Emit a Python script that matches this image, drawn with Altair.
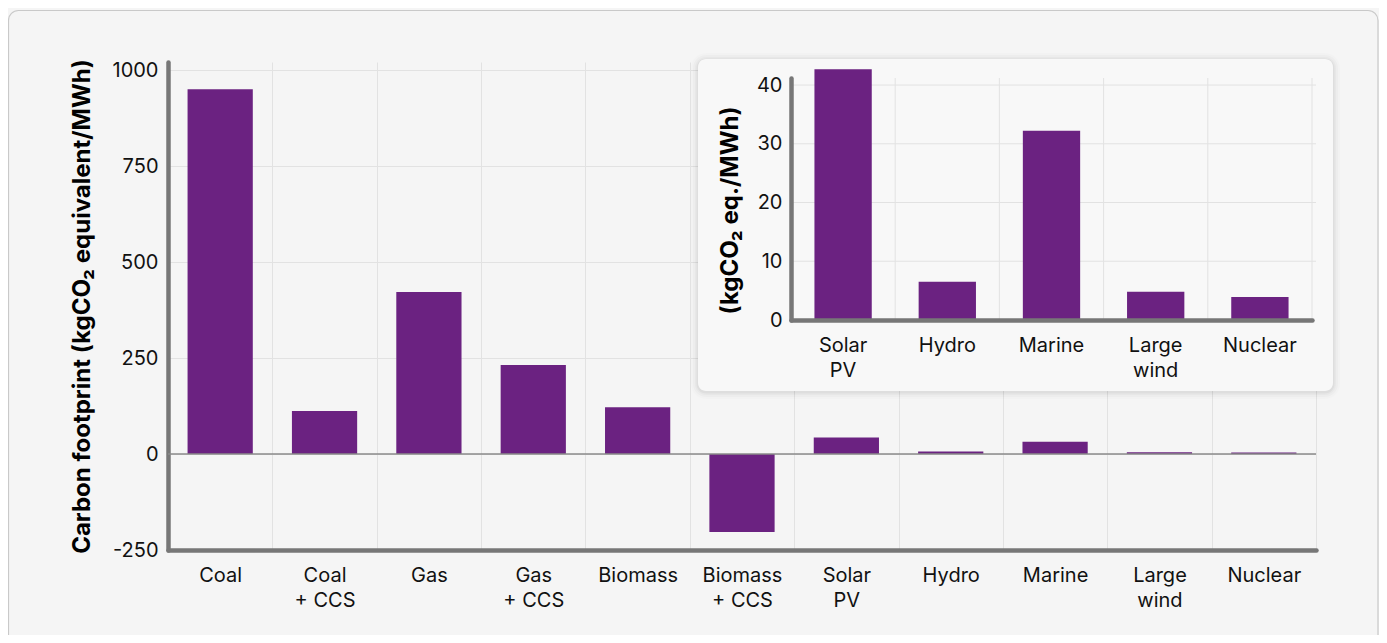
import altair as alt
import pandas as pd

# ---------------- data ----------------
main_cats = ["Coal", "Coal\n+ CCS", "Gas", "Gas\n+ CCS", "Biomass", "Biomass\n+ CCS",
             "Solar\nPV", "Hydro", "Marine", "Large\nwind", "Nuclear"]
main_vals = [950, 112, 422, 232, 122, -203, 43, 6.5, 32, 4.8, 4]
main_ticks = [-250, 0, 250, 500, 750, 1000]

inset_cats = ["Solar\nPV", "Hydro", "Marine", "Large\nwind", "Nuclear"]
inset_vals = [42.7, 6.5, 32.2, 4.8, 3.9]
inset_ticks = [0, 10, 20, 30, 40]
inset_grid = [10, 20, 30, 40]

# ---------------- layout constants ----------------
W, H = 1148, 488
MAIN_DOMAIN = [-250, 1021]
IX0, IX1 = 623, 1144          # inset x range (px, relative to plot)
IY0, IY1 = 258, 16            # inset y range (bottom, top)
INSET_DOMAIN = [0, 41.2]
CARD = dict(x=530, x2=1165, y=-3, y2=329)

PURPLE = "#6b2281"
AXIS_C = "#777777"
GRID_C = "#e2e2e2"
FONT = "Inter"
LBL = 20
TTL = 24

main_df = pd.DataFrame({"cat": main_cats, "value": main_vals})
inset_df = pd.DataFrame({"cat": inset_cats, "value": inset_vals})
grid_df = pd.DataFrame({"t": inset_grid})
one = pd.DataFrame({"k": [0]})

label_split = "split(datum.label, '\\n')"

# ---------------- main chart ----------------
main_x = alt.X("cat:N", sort=main_cats, title=None,
               scale=alt.Scale(paddingInner=0, paddingOuter=0),
               axis=alt.Axis(labelExpr=label_split, labelAngle=0, labelPadding=15,
                             labelLineHeight=25, labelBaseline="top",
                             grid=True, tickBand="extent", gridColor=GRID_C,
                             ticks=False, domainColor=AXIS_C, domainWidth=4.5,
                             domainCap="round", labelFont=FONT, labelFontSize=LBL,
                             labelColor="#111111"))
main_y = alt.Y("value:Q", title="Carbon footprint (kgCO\u2082 equivalent/MWh)",
               scale=alt.Scale(domain=MAIN_DOMAIN, nice=False, zero=False),
               axis=alt.Axis(values=main_ticks, labelExpr="'' + datum.value",
                             grid=True, gridColor=GRID_C, ticks=False,
                             domainColor=AXIS_C, domainWidth=4.5, domainCap="round",
                             labelPadding=10, labelFont=FONT, labelFontSize=LBL,
                             labelColor="#111111", titleFont=FONT, titleFontSize=TTL,
                             titleFontWeight="bold", titleColor="#000000",
                             titleX=-86, titleBaseline="middle"))

main_bars = alt.Chart(main_df).mark_bar(color=PURPLE, width=alt.RelativeBandSize(0.625)).encode(
    x=main_x, y=main_y)
zero_rule = alt.Chart(one).mark_rule(color="#8a8a8a", strokeWidth=1.5).encode(y=alt.datum(0))
card_border = alt.Chart(one).mark_rect(fillOpacity=0, stroke="#c9c9c9", strokeWidth=1.2,
                                       cornerRadius=10).encode(
    x=alt.value(-159.5), x2=alt.value(1210), y=alt.value(-51.5), y2=alt.value(800))

main_layer = alt.layer(main_bars, zero_rule, card_border)

# ---------------- inset chart ----------------
ix_scale = alt.Scale(range=[IX0, IX1], paddingInner=0, paddingOuter=0)
ix_axis = alt.Axis(orient="bottom", offset=IY0 - H, labelExpr=label_split, labelAngle=0,
                   labelPadding=15, labelLineHeight=25, labelBaseline="top", grid=False,
                   ticks=False, domainColor=AXIS_C, domainWidth=4.5, domainCap="round",
                   labelFont=FONT, labelFontSize=LBL, labelColor="#111111", zindex=2)
iy_scale = alt.Scale(domain=INSET_DOMAIN, range=[IY0, IY1], nice=False, zero=False)
iy_title = "(kgCO\u2082 eq./MWh)"
iy_axis = alt.Axis(orient="left", offset=-IX0, values=inset_ticks, grid=False, ticks=False,
                   domainColor=AXIS_C, domainWidth=4.5, domainCap="round", labelPadding=9,
                   labelFont=FONT, labelFontSize=LBL, labelColor="#111111",
                   titleFont=FONT, titleFontSize=TTL, titleFontWeight="bold",
                   titleColor="#000000", titleX=-61, titleY=148, titleBaseline="middle",
                   zindex=2)

shadows = [
    alt.Chart(one).mark_rect(color="#000000", opacity=op, cornerRadius=8 + g).encode(
        x=alt.value(CARD["x"] - g), x2=alt.value(CARD["x2"] + g),
        y=alt.value(CARD["y"] - g + 1), y2=alt.value(CARD["y2"] + g + 1))
    for g, op in [(7, 0.012), (5, 0.018), (3, 0.025), (1.5, 0.035)]
]
card = alt.Chart(one).mark_rect(color="#f8f8f8", cornerRadius=8).encode(
    x=alt.value(CARD["x"]), x2=alt.value(CARD["x2"]),
    y=alt.value(CARD["y"]), y2=alt.value(CARD["y2"]))

inset_vgrid = alt.Chart(inset_df).mark_rule(color=GRID_C, strokeWidth=1).encode(
    x=alt.X("cat:N", sort=inset_cats, bandPosition=1, scale=ix_scale, axis=ix_axis, title=None),
    y=alt.datum(INSET_DOMAIN[0]), y2=alt.datum(INSET_DOMAIN[1]))
inset_hgrid = alt.Chart(grid_df).mark_rule(color=GRID_C, strokeWidth=1).encode(
    y=alt.Y("t:Q", scale=iy_scale, axis=iy_axis, title=iy_title),
    x=alt.value(IX0), x2=alt.value(W))
inset_bars = alt.Chart(inset_df).mark_bar(color=PURPLE, width=alt.RelativeBandSize(0.55)).encode(
    x=alt.X("cat:N", sort=inset_cats, scale=ix_scale, axis=ix_axis, title=None),
    y=alt.Y("value:Q", scale=iy_scale, axis=iy_axis, title=iy_title))

inset_layer = alt.layer(*shadows, card, inset_vgrid, inset_hgrid, inset_bars)

chart = alt.layer(main_layer, inset_layer).resolve_scale(
    x="independent", y="independent"
).properties(
    width=W, height=H,
    autosize=alt.AutoSizeParams(type="none"),
    padding={"left": 160, "top": 54, "right": 63, "bottom": 85},
    background="#f5f5f5",
).configure_view(stroke=None)

chart.save("out.html", embed_options={"renderer": "svg", "actions": False})
